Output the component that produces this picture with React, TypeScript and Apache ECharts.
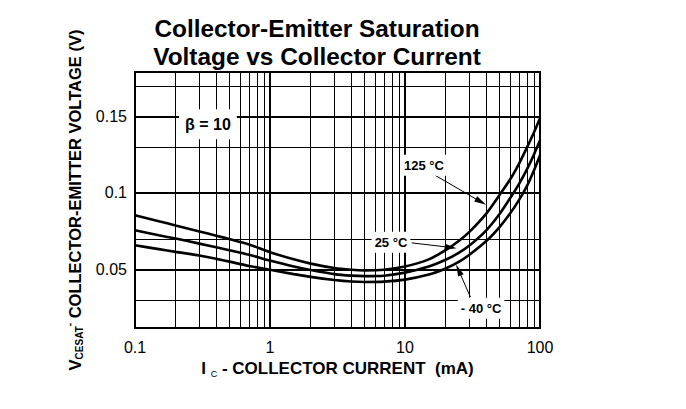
import React, { useEffect, useRef } from 'react';
import * as echarts from 'echarts';

const FONT = '"Liberation Sans", Arial, Helvetica, sans-serif';

// Collector current (mA)
const currents = [0.1, 0.15, 0.2, 0.3, 0.4, 0.5, 0.7, 1, 1.5, 2, 3, 4, 5, 7, 10, 15, 20, 25, 30, 40, 50, 60, 70, 80, 90, 100];
// VCE(sat) (V) per temperature
const v125 = [0.0854, 0.0815, 0.0787, 0.0748, 0.072, 0.0698, 0.0663, 0.0612, 0.0565, 0.0537, 0.0508, 0.0497, 0.0493, 0.0497, 0.0518, 0.0565, 0.0625, 0.0685, 0.0745, 0.0865, 0.0985, 0.1088, 0.1193, 0.1298, 0.1395, 0.149];
const v25 = [0.0756, 0.0723, 0.0701, 0.0668, 0.0644, 0.0625, 0.0595, 0.0557, 0.0518, 0.0495, 0.0468, 0.0458, 0.0455, 0.0458, 0.0478, 0.0518, 0.0562, 0.0607, 0.0655, 0.0755, 0.086, 0.0965, 0.106, 0.1155, 0.125, 0.1345];
const vm40 = [0.0657, 0.0632, 0.0614, 0.059, 0.0568, 0.055, 0.0522, 0.0497, 0.0468, 0.045, 0.043, 0.042, 0.0417, 0.0419, 0.0432, 0.0465, 0.0505, 0.0548, 0.0595, 0.0685, 0.0775, 0.0865, 0.0955, 0.1045, 0.1145, 0.1247];

const xTickLabels = [0.1, 1, 10, 100];
const yTickLabels = [0.05, 0.1, 0.15];
const yMinorGrid = [0.025, 0.075, 0.125, 0.175];
const xMajorGrid = [1, 10];
const xMinorGrid = [0.2, 0.3, 0.4, 0.5, 0.6, 0.7, 0.8, 0.9, 2, 3, 4, 5, 6, 7, 8, 9, 20, 30, 40, 50, 60, 70, 80, 90];

const labelTexts = ['β = 10', '125 °C', '25 °C', '- 40 °C'];
const labelAt = [
  [0.347, 0.145],
  [13.8, 0.1182],
  [7.87, 0.0677],
  [36.6, 0.0244],
];
const arrowFrom = [
  [16.7, 0.1116],
  [11.2, 0.0673],
  [30.5, 0.0318],
];
const arrowTo = [
  [36.5, 0.0942],
  [21.8, 0.0643],
  [24.9, 0.0496],
];

export default function App() {
  const ref = useRef<HTMLDivElement>(null);

  useEffect(() => {
    if (!ref.current) return;
    const chart = echarts.init(ref.current, null, { renderer: 'svg' });

    const gridLine = (w: number) => ({ color: '#000', width: w, type: 'solid' as const });

    const curve = (name: string, vals: number[]) => ({
      name,
      type: 'line',
      data: currents.map((c, i) => [c, vals[i]]),
      symbol: 'none',
      showSymbol: false,
      smooth: 0.25,
      lineStyle: { color: '#000', width: 2.6 },
      z: 5,
      silent: true,
    });

    const option: any = {
      animation: false,
      backgroundColor: '#fff',
      title: {
        text: 'Collector-Emitter Saturation\nVoltage vs Collector Current',
        left: 317,
        top: 14,
        padding: 0,
        textAlign: 'center',
        textStyle: {
          fontFamily: FONT,
          fontSize: 24.4,
          fontWeight: 'bold',
          color: '#000',
          lineHeight: 28,
        },
      },
      grid: {
        left: 135,
        right: 146,
        top: 72,
        bottom: 81,
        show: true,
        borderColor: '#000',
        borderWidth: 2,
        backgroundColor: 'transparent',
        containLabel: false,
        outerBoundsMode: 'none',
      },
      xAxis: {
        type: 'log',
        logBase: 10,
        min: 0.1,
        max: 100,
        axisLine: { show: false },
        axisTick: { show: false },
        splitLine: { show: false },
        minorSplitLine: { show: false },
        axisLabel: {
          fontFamily: FONT,
          fontSize: 16,
          color: '#000',
          margin: 11,
          showMinLabel: true,
          showMaxLabel: true,
          formatter: (v: number) => {
            const m = xTickLabels.find((t) => Math.abs(t - v) / t < 1e-6);
            return m !== undefined ? String(m) : '';
          },
        },
        name: '{b|I }{s|C}{b| - COLLECTOR CURRENT\u00a0 (mA)}',
        nameLocation: 'middle',
        nameGap: 30,
        nameTextStyle: {
          color: '#000',
          fontFamily: FONT,
          rich: {
            b: { fontFamily: FONT, fontSize: 17, fontWeight: 'bold', color: '#000', lineHeight: 20 },
            s: { fontFamily: FONT, fontSize: 9, color: '#000', lineHeight: 10, verticalAlign: 'bottom' },
          },
        },
      },
      yAxis: {
        type: 'value',
        min: 0.0115,
        max: 0.1793,
        axisLine: { show: false },
        axisTick: { show: false },
        splitLine: { show: false },
        axisLabel: {
          fontFamily: FONT,
          fontSize: 16,
          color: '#000',
          margin: 8,
          customValues: yTickLabels,
          formatter: (v: number) => String(parseFloat(v.toFixed(3))),
        },
        name: '{b|V}{s|CESAT}{p|-}{b| COLLECTOR-EMITTER VOLTAGE (V)}',
        nameLocation: 'middle',
        nameGap: 46,
        nameTextStyle: {
          color: '#000',
          fontFamily: FONT,
          rich: {
            b: { fontFamily: FONT, fontSize: 16.5, fontWeight: 'bold', color: '#000', lineHeight: 20 },
            s: { fontFamily: FONT, fontSize: 10, fontWeight: 'bold', color: '#000', lineHeight: 12, verticalAlign: 'bottom' },
            p: { fontFamily: FONT, fontSize: 10, fontWeight: 'bold', color: '#000', lineHeight: 12, verticalAlign: 'top' },
          },
        },
      },
      series: [
        {
          type: 'line',
          data: [],
          z: 1,
          silent: true,
          symbol: 'none',
          markLine: {
            silent: true,
            symbol: ['none', 'none'],
            label: { show: false },
            emphasis: { disabled: true },
            data: [
              ...xMinorGrid.map((x) => ({ xAxis: x, lineStyle: gridLine(1) })),
              ...xMajorGrid.map((x) => ({ xAxis: x, lineStyle: gridLine(2) })),
              ...yMinorGrid.map((y) => ({ yAxis: y, lineStyle: gridLine(1) })),
              ...yTickLabels.map((y) => ({ yAxis: y, lineStyle: gridLine(2) })),
            ],
          },
        },
        curve('125 °C', v125),
        curve('25 °C', v25),
        curve('-40 °C', vm40),
        {
          type: 'line',
          data: [],
          z: 10,
          silent: true,
          symbol: 'none',
          markLine: {
            silent: true,
            label: { show: false },
            emphasis: { disabled: true },
            lineStyle: { color: '#000', width: 1, type: 'solid' },
            data: arrowFrom.map((f, i) => [
              { coord: f, symbol: 'none' },
              { coord: arrowTo[i], symbol: 'triangle', symbolSize: [6, 12] },
            ]),
          },
          markPoint: {
            silent: true,
            emphasis: { disabled: true },
            data: labelTexts.map((t, i) => ({
              coord: labelAt[i],
              symbol: 'rect',
              symbolSize: 1,
              itemStyle: { color: 'rgba(0,0,0,0)' },
              label: {
                show: true,
                position: 'inside',
                formatter: t,
                fontFamily: FONT,
                fontWeight: 'bold',
                fontSize: i === 0 ? 16 : 13,
                color: '#000',
                backgroundColor: '#fff',
                padding: i === 0 ? [7, 6] : [4, 3],
              },
            })),
          },
        },
      ],
    };

    chart.setOption(option);
    return () => chart.dispose();
  }, []);

  return (
    <div
      ref={ref}
      style={{ position: 'fixed', left: 0, top: 0, width: 686, height: 409, background: '#fff' }}
    />
  );
}
